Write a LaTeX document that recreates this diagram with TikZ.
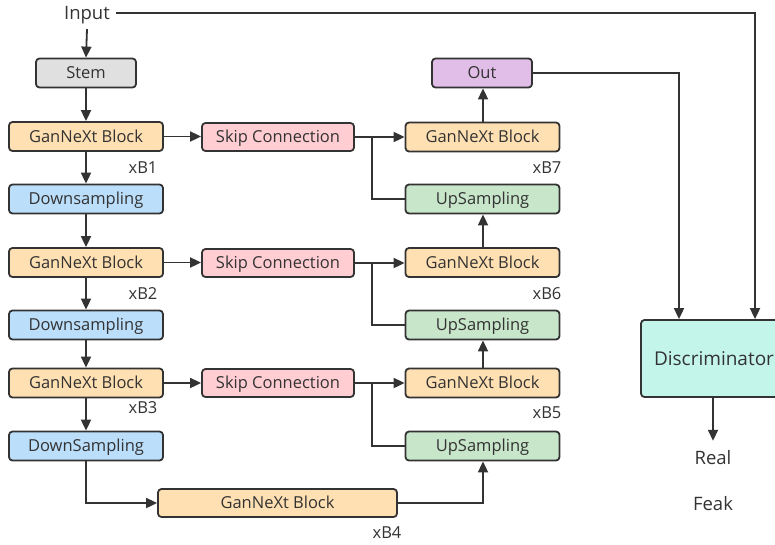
\documentclass[tikz,border=0pt]{standalone}
\usepackage{fontspec}
\setmainfont{Open Sans}
\usetikzlibrary{arrows.meta}

\definecolor{ink}{HTML}{333333}
\definecolor{stemfill}{HTML}{E0E0E0}
\definecolor{blockfill}{HTML}{FFE0B2}
\definecolor{downfill}{HTML}{BBDEFB}
\definecolor{skipfill}{HTML}{FFCDD2}
\definecolor{upfill}{HTML}{C8E6C9}
\definecolor{outfill}{HTML}{E1BEE7}
\definecolor{discfill}{HTML}{C3F5EB}

\tikzset{
  txt/.style={text=ink, font=\fontsize{16.5}{20}\selectfont, text height=12pt, text depth=0.5pt},
  big/.style={font=\fontsize{18.5}{22}\selectfont, text height=13.5pt},
  box/.style={txt, draw=ink, line width=1.8pt, rounded corners=3.5pt, inner sep=0pt,
    minimum height=29pt},
  colbox/.style={box, minimum width=154pt},
  lbl/.style={txt, inner sep=0pt},
  wire/.style={draw=ink, line width=1.8pt},
  arr/.style={wire, -{Triangle[length=11pt,width=10pt]}},
}

\begin{document}
\begin{tikzpicture}[x=1pt,y=-1pt]
\path[use as bounding box] (0,0) rectangle (775,544);
\clip (0,0) rectangle (775,544);

% encoder column
\node[lbl, big, inner xsep=6pt] (input) at (87,13) {Input};
\node[box, fill=stemfill, minimum width=100pt] (stem) at (86,73) {Stem};
\node[colbox, fill=blockfill] (g1) at (86,136.5) {GanNeXt Block};
\node[colbox, fill=downfill] (d1) at (86,199) {Downsampling};
\node[colbox, fill=blockfill] (g2) at (86,262.5) {GanNeXt Block};
\node[colbox, fill=downfill] (d2) at (86,325) {Downsampling};
\node[colbox, fill=blockfill] (g3) at (86,383) {GanNeXt Block};
\node[colbox, fill=downfill] (d3) at (86,446) {DownSampling};
\node[box, fill=blockfill, minimum width=239pt, minimum height=28pt] (g4) at (277.5,503) {GanNeXt Block};

% skip connections
\node[box, fill=skipfill, minimum width=152pt, minimum height=28pt] (s1) at (278,137) {Skip Connection};
\node[box, fill=skipfill, minimum width=152pt, minimum height=28pt] (s2) at (278,263) {Skip Connection};
\node[box, fill=skipfill, minimum width=152pt, minimum height=28pt] (s3) at (278,383) {Skip Connection};

% decoder column
\node[box, fill=outfill, minimum width=100pt] (out) at (482,73) {Out};
\node[colbox, fill=blockfill] (g7) at (482.5,137) {GanNeXt Block};
\node[colbox, fill=upfill] (u1) at (482.5,199) {UpSampling};
\node[colbox, fill=blockfill] (g6) at (482.5,262.5) {GanNeXt Block};
\node[colbox, fill=upfill] (u2) at (482.5,325) {UpSampling};
\node[colbox, fill=blockfill] (g5) at (482.5,383) {GanNeXt Block};
\node[colbox, fill=upfill] (u3) at (482.5,446) {UpSampling};

% repeat counts
\node[lbl] (xb1) at (143,168) {xB1};
\node[lbl] (xb2) at (143,294) {xB2};
\node[lbl] (xb3) at (143,408) {xB3};
\node[lbl] (xb4) at (387,533) {xB4};
\node[lbl] (xb7) at (547,168) {xB7};
\node[lbl] (xb6) at (547,294) {xB6};
\node[lbl] (xb5) at (547,413) {xB5};

% discriminator
\node[box, fill=discfill, minimum width=144pt, minimum height=77pt] (disc) at (713,358.5) {};
\node[lbl, font=\fontsize{19}{23}\selectfont, text height=14pt] (disctext) at (714,359) {Discriminator};
\node[lbl, big] (real) at (713,458) {Real};
\node[lbl, big] (feak) at (713,504) {Feak};

% junctions on the skip lines
\coordinate (j1) at (372,137);
\coordinate (j2) at (372,263);
\coordinate (j3) at (372,383);
\coordinate (ddrop) at (86,503);
\coordinate (urise) at (483,503);

% encoder path
\draw[arr] ([yshift=-9pt]input.south) -- (stem.north);
\draw[arr] (stem) -- (g1);
\draw[arr] (g1) -- (d1);
\draw[arr] (d1) -- (g2);
\draw[arr] (g2) -- (d2);
\draw[arr] (d2) -- (g3);
\draw[arr] (g3) -- (d3);
\draw[arr] (d3.south) -- (ddrop) -- (g4.west);
\draw[arr] (g4.east) -- (urise) -- (u3.south -| urise);

% skips
\draw[arr] (g1.east) -- (s1.west |- g1.east);
\draw[arr] (g2.east) -- (s2.west |- g2.east);
\draw[arr] (g3.east) -- (s3.west |- g3.east);
\draw[arr] (s1.east) -- (g7.west |- s1.east);
\draw[arr] (s2.east) -- (g6.west |- s2.east);
\draw[arr] (s3.east) -- (g5.west |- s3.east);

% decoder path
\draw[wire] (u1.west) -| (j1);
\draw[wire] (u2.west) -| (j2);
\draw[wire] (u3.west) -| (j3);
\draw[arr] (g6.north -| urise) -- (u1.south -| urise);
\draw[arr] (g5.north -| urise) -- (u2.south -| urise);
\draw[arr] (g7.north -| urise) -- (out.south -| urise);

% to the discriminator
\draw[arr] (out.east) -| ([xshift=-34pt]disc.north);
\draw[arr] (input.east) -| ([xshift=42pt]disc.north);
\draw[arr] (disc.south) -- ([yshift=10pt]real.north);
\end{tikzpicture}
\end{document}
